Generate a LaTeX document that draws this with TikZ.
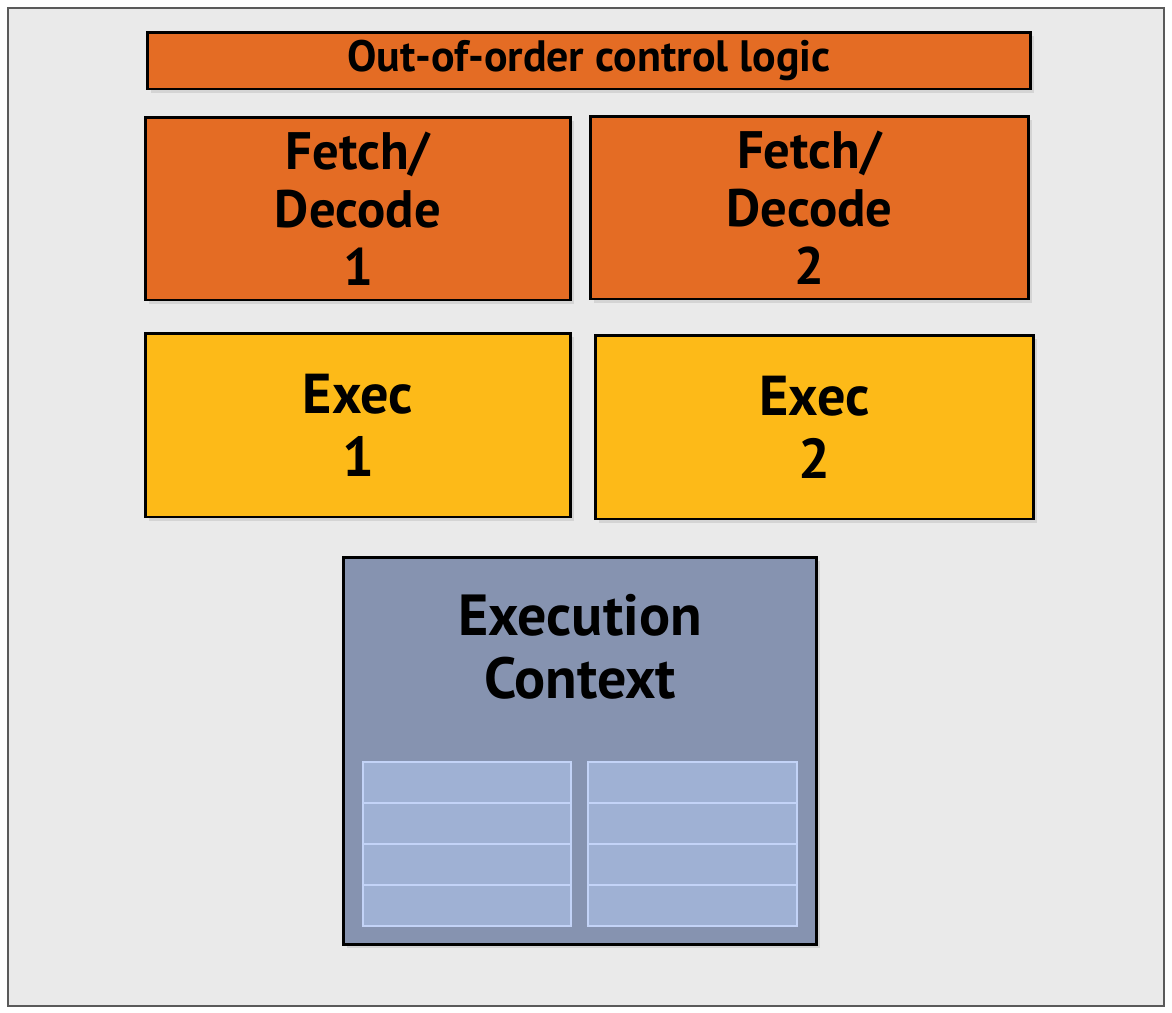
\documentclass[tikz,border=0pt]{standalone}
\usepackage{fontspec}
\setmainfont{PT Sans}
\usepackage{xcolor}
\usepackage{tikz}
\usetikzlibrary{positioning,shadows}
\definecolor{ctlorange}{HTML}{E46C24}
\definecolor{execyellow}{HTML}{FDBA18}
\definecolor{paper}{HTML}{EAEAEA}
\definecolor{framegray}{HTML}{5A5A5A}
\definecolor{ctxblue}{HTML}{8693B0}
\definecolor{regfill}{HTML}{9FB1D4}
\definecolor{regline}{HTML}{C3D3F7}
\tikzset{
  blk/.style     ={draw=black,line width=1.7pt,inner sep=0pt,align=center,
                   font=\bfseries,
                   drop shadow={shadow xshift=2pt,shadow yshift=-2pt,opacity=0.2}},
  ctlbox/.style  ={blk,fill=ctlorange,font=\bfseries\fontsize{25}{29}\selectfont},
  fetchbox/.style={blk,fill=ctlorange,font=\bfseries\fontsize{30}{33}\selectfont},
  execbox/.style ={blk,fill=execyellow,font=\bfseries\fontsize{32}{36}\selectfont},
  ctxbox/.style  ={blk,fill=ctxblue},
  ctxtext/.style ={inner sep=0pt,align=center,font=\bfseries\fontsize{33}{36}\selectfont},
  regcell/.style ={draw=regline,line width=1pt,fill=regfill,inner sep=0pt,
                   minimum height=0.82cm}
}
\begin{document}
\begin{tikzpicture}[x=0.02cm,y=-0.02cm]
  \useasboundingbox (0,0) rectangle (1172,1012);
  \draw[framegray,line width=1.2pt,fill=paper] (8,8) rectangle (1164,1006);

  % front end
  \node[ctlbox,minimum width=17.68cm,minimum height=1.14cm] (ctl) at (589,60.5)
    {Out-of-order control logic};
  \node[fetchbox,minimum width=8.52cm,minimum height=3.66cm] (fd1) at (358,208.5)
    {Fetch/\\Decode\\1};
  \node[fetchbox,minimum width=8.78cm,minimum height=3.66cm] (fd2) at (809.5,207.5)
    {Fetch/\\Decode\\2};

  % execution units
  \node[execbox,minimum width=8.52cm,minimum height=3.68cm] (ex1) at (358,425)
    {Exec\\1};
  \node[execbox,minimum width=8.78cm,minimum height=3.68cm] (ex2) at (814.5,427)
    {Exec\\2};

  % context + register file
  \node[ctxbox,minimum width=9.48cm,minimum height=7.76cm] (ctx) at (580,751) {};
  \node[ctxtext] (ctxlbl) at (580,647) {Execution\\Context};
  \foreach \r in {0,...,3}{
    \node[regcell,minimum width=4.16cm] (regA\r) at (467,782.5+41*\r) {};
    \node[regcell,minimum width=4.18cm] (regB\r) at (692.5,782.5+41*\r) {};
  }
\end{tikzpicture}
\end{document}
